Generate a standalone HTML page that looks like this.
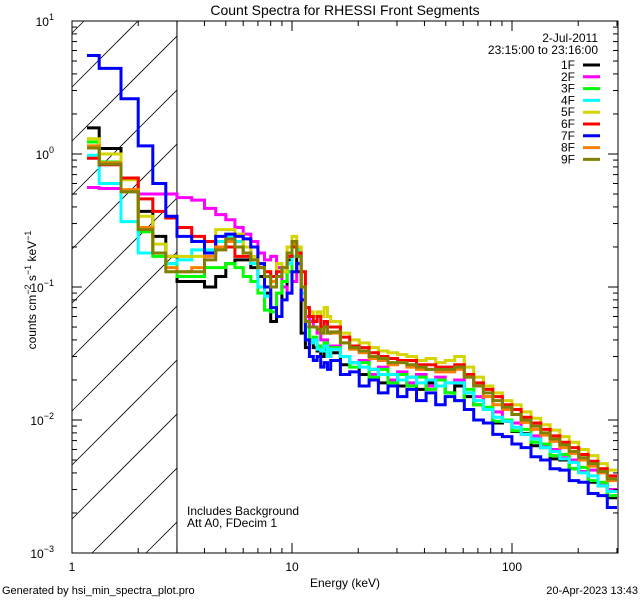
<!DOCTYPE html>
<html><head><meta charset="utf-8"><style>
html,body{margin:0;padding:0;background:#fff;width:640px;height:600px;overflow:hidden;}
svg{display:block;}
svg text{font-family:"Liberation Sans",sans-serif;fill:#000;}
</style></head><body>
<svg id="chart" width="640" height="600" xmlns="http://www.w3.org/2000/svg">
<rect width="640" height="600" fill="#fff"/>
<text x="345" y="15" font-size="14" text-anchor="middle">Count Spectra for RHESSI Front Segments</text>
<g id="hatch"></g>
<g id="series"></g>
<g id="axes"></g>
<text x="345" y="587" font-size="12" text-anchor="middle">Energy (keV)</text>
<text transform="translate(36,290) rotate(-90)" font-size="12" text-anchor="middle">counts cm<tspan dy="-5" font-size="9">−2</tspan><tspan dy="5"> s</tspan><tspan dy="-5" font-size="9">−1</tspan><tspan dy="5"> keV</tspan><tspan dy="-5" font-size="9">−1</tspan></text>
<text x="598" y="42" font-size="12" text-anchor="end">2-Jul-2011</text>
<text x="598" y="54" font-size="12" text-anchor="end">23:15:00 to 23:16:00</text>
<g id="legend"></g>
<text x="187" y="515" font-size="12">Includes Background</text>
<text x="187" y="527" font-size="12">Att A0, FDecim 1</text>
<text x="2" y="594" font-size="11">Generated by hsi_min_spectra_plot.pro</text>
<text x="638" y="594" font-size="11" text-anchor="end">20-Apr-2023 13:43</text>
</svg>
<script>
const edges=[1.17,1.33,1.67,2,2.33,2.67,3,3.5,4,4.5,5,5.5,6,6.5,7,7.5,8,8.5,9,9.5,10,10.5,11,11.5,12,12.5,13,13.5,14,14.5,15,16.6,18.3,20.2,22.4,24.7,27.3,30.2,33.3,36.8,40.7,45,49.7,54.9,60.7,67,74.1,81.8,90.4,99.9,110,122,135,149,165,182,201,222,246,271,300];
const segLabels=["1F","2F","3F","4F","5F","6F","7F","8F","9F"];
const segColors=["#000000","#ff00ff","#00ff00","#00ffff","#d4d400","#ff0000","#0000ff","#ff8000","#808000"];
const s1F=[1.57,1.1,0.66,0.37,0.24,0.17,0.11,0.11,0.10,0.12,0.15,0.16,0.16,0.14,0.12,0.09,0.055,0.06,0.10,0.16,0.20,0.13,0.045,0.035,0.04,0.035,0.033,0.03,0.034,0.03,
0.032,0.026,0.027,0.022,0.024,0.019,0.022,0.018,0.021,0.017,0.019,0.018,0.016,0.018,0.015,0.013,0.012,0.0095,0.0098,0.0082,0.0079,0.0064,0.0062,0.0051,0.005,0.0043,0.0041,0.0034,0.0032,0.0026];
const s2F=[0.56,0.55,0.52,0.50,0.50,0.50,0.47,0.45,0.39,0.35,0.32,0.28,0.25,0.22,0.18,0.16,0.17,0.14,0.10,0.09,0.11,0.15,0.08,0.06,0.055,0.05,0.045,0.04,0.04,0.035,
0.036,0.030,0.027,0.028,0.022,0.025,0.02,0.023,0.019,0.022,0.018,0.021,0.019,0.02,0.016,0.015,0.012,0.0115,0.0098,0.0095,0.0078,0.0076,0.0063,0.006,0.0052,0.005,0.0041,0.0042,0.0033,0.003];
const s3F=[1.23,0.87,0.52,0.26,0.17,0.15,0.12,0.12,0.14,0.14,0.15,0.14,0.12,0.11,0.09,0.067,0.065,0.09,0.11,0.13,0.17,0.2,0.1,0.05,0.04,0.042,0.036,0.035,0.038,0.033,
0.035,0.03,0.025,0.027,0.021,0.024,0.019,0.022,0.018,0.021,0.017,0.02,0.016,0.014,0.017,0.013,0.0125,0.0098,0.01,0.0083,0.0085,0.0068,0.0066,0.0054,0.0055,0.0043,0.0044,0.0035,0.0034,0.0027];
const s4F=[0.98,0.6,0.31,0.18,0.18,0.15,0.16,0.19,0.19,0.22,0.24,0.22,0.18,0.15,0.1,0.085,0.1,0.12,0.13,0.15,0.17,0.19,0.09,0.04,0.038,0.04,0.034,0.033,0.036,0.03,
0.034,0.03,0.027,0.025,0.024,0.022,0.022,0.02,0.021,0.019,0.02,0.018,0.019,0.019,0.016,0.014,0.012,0.0105,0.0098,0.0088,0.0078,0.0072,0.0062,0.0058,0.0051,0.0048,0.004,0.0038,0.0032,0.0029];
const s5F=[1.3,1.0,0.64,0.34,0.21,0.17,0.17,0.17,0.22,0.27,0.27,0.25,0.2,0.17,0.15,0.13,0.12,0.15,0.13,0.2,0.24,0.2,0.13,0.07,0.065,0.06,0.065,0.06,0.07,0.06,
0.055,0.045,0.04,0.038,0.035,0.033,0.032,0.031,0.03,0.028,0.029,0.027,0.028,0.03,0.025,0.021,0.018,0.016,0.014,0.013,0.0115,0.0103,0.0092,0.0084,0.0075,0.0068,0.006,0.0054,0.0047,0.0042];
const s6F=[0.93,0.83,0.66,0.46,0.37,0.33,0.28,0.24,0.22,0.2,0.2,0.17,0.17,0.16,0.15,0.13,0.12,0.13,0.14,0.17,0.2,0.18,0.13,0.07,0.06,0.055,0.06,0.05,0.055,0.05,
0.05,0.042,0.036,0.035,0.032,0.03,0.029,0.028,0.028,0.026,0.026,0.025,0.025,0.026,0.022,0.019,0.017,0.015,0.013,0.012,0.0105,0.0095,0.0085,0.0076,0.0068,0.0062,0.0055,0.0049,0.0043,0.0038];
const s7F=[5.5,4.4,2.6,1.15,0.6,0.34,0.24,0.22,0.18,0.24,0.25,0.24,0.23,0.2,0.15,0.1,0.07,0.06,0.08,0.09,0.13,0.15,0.08,0.04,0.03,0.028,0.03,0.025,0.027,0.024,
0.028,0.022,0.023,0.018,0.02,0.016,0.018,0.015,0.017,0.014,0.016,0.013,0.015,0.014,0.012,0.01,0.0095,0.0078,0.0075,0.0066,0.0062,0.0053,0.005,0.0043,0.0042,0.0035,0.0034,0.0028,0.0027,0.0022];
const s8F=[1.15,0.86,0.54,0.28,0.18,0.14,0.13,0.14,0.17,0.2,0.22,0.2,0.18,0.16,0.14,0.12,0.11,0.12,0.14,0.18,0.21,0.17,0.1,0.055,0.05,0.05,0.048,0.045,0.05,0.045,
0.045,0.038,0.034,0.032,0.029,0.028,0.026,0.027,0.025,0.024,0.024,0.023,0.023,0.024,0.021,0.018,0.015,0.013,0.012,0.011,0.0096,0.0085,0.0077,0.0069,0.0062,0.0056,0.005,0.0045,0.004,0.0035];
const s9F=[1.11,0.84,0.52,0.27,0.18,0.13,0.13,0.13,0.16,0.19,0.23,0.2,0.18,0.16,0.14,0.12,0.1,0.12,0.14,0.18,0.22,0.17,0.1,0.055,0.05,0.05,0.048,0.045,0.05,0.045,
0.046,0.038,0.035,0.033,0.03,0.029,0.027,0.027,0.026,0.025,0.024,0.024,0.024,0.025,0.021,0.018,0.016,0.014,0.0125,0.011,0.01,0.009,0.008,0.0072,0.0065,0.0058,0.0052,0.0047,0.0041,0.0036];
const allSeries=[s1F,s2F,s3F,s4F,s5F,s6F,s7F,s8F,s9F];
const yTickLabels=["10","10","10","10","10"];
const yTickExps=["1","0","−1","−2","−3"];
const xTickLabels=["1","10","100"];

const NS="http://www.w3.org/2000/svg";
const L=72,R=618,T=21,B=553,DEC=220;
const xs=e=>L+Math.log10(e)*DEC;
const ys=v=>T+(1-Math.log10(v))*((B-T)/4);
function mk(tag,attrs,parent){const el=document.createElementNS(NS,tag);for(const k in attrs)el.setAttribute(k,attrs[k]);parent.appendChild(el);return el;}

const hatch=document.getElementById('hatch');
const X3=xs(3);
for(let c=33;c<B+(X3-L);c+=54){
  const xa=Math.max(L,L+c-B), xb=Math.min(X3,L+c-T);
  if(xa>=xb) continue;
  const ln=mk('line',{x1:xa,y1:c-(xa-L),x2:xb,y2:c-(xb-L),stroke:'#000','stroke-width':0.8},hatch);
  
  
}
const thr=mk('line',{x1:X3,y1:T,x2:X3,y2:B,stroke:'#000','stroke-width':1},hatch);



const sg=document.getElementById('series');
allSeries.forEach((vals,si)=>{
  let d='';
  vals.forEach((v,i)=>{
    const x0=xs(edges[i]),x1=Math.min(R,xs(edges[i+1])),y=Math.min(B,Math.max(T,ys(v)));
    d+=(i===0?'M':'L')+x0.toFixed(1)+','+y.toFixed(1)+'L'+x1.toFixed(1)+','+y.toFixed(1);
  });
  const p=mk('path',{d:d,fill:'none',stroke:segColors[si],'stroke-width':3,'stroke-linejoin':'miter'},sg);
  
  
});

const ax=document.getElementById('axes');
const frame=mk('rect',{x:L,y:T,width:R-L,height:B-T,fill:'none',stroke:'#000','stroke-width':1},ax);


for(let dec=0;dec<3;dec++){
  for(let m=1;m<10;m++){
    const e=m*Math.pow(10,dec);if(e>300)break;
    const x=xs(e),len=m===1?10:5;
    const t1=mk('line',{x1:x,y1:B,x2:x,y2:B-len,stroke:'#000'},ax);
    
    
    const t2=mk('line',{x1:x,y1:T,x2:x,y2:T+len,stroke:'#000'},ax);
    
    
  }
}
xTickLabels.forEach((lab,i)=>{
  const t=mk('text',{x:xs(Math.pow(10,i)),y:571,'font-size':12,'text-anchor':'middle'},ax);
  t.textContent=lab;
  
  
});
for(let p=-3;p<1;p++){
  for(let m=1;m<10;m++){
    const v=m*Math.pow(10,p),y=ys(v),len=m===1?10:5;
    const t1=mk('line',{x1:L,y1:y,x2:L+len,y2:y,stroke:'#000'},ax);
    
    
    const t2=mk('line',{x1:R,y1:y,x2:R-len,y2:y,stroke:'#000'},ax);
    
    
  }
}
yTickLabels.forEach((lab,i)=>{
  const y=ys(Math.pow(10,1-i));
  const t=mk('text',{x:54,y:y+5,'font-size':12,'text-anchor':'end'},ax);
  t.textContent=lab;
  const ts=mk('tspan',{dy:-6,'font-size':9},t);
  ts.textContent=yTickExps[i];
  
  
});

const lg=document.getElementById('legend');
segLabels.forEach((lab,i)=>{
  const y=65+i*11.8;
  const t=mk('text',{x:575,y:y+4,'font-size':12,'text-anchor':'end'},lg);
  t.textContent=lab;
  
  
  const l=mk('line',{x1:583,y1:y,x2:600,y2:y,stroke:segColors[i],'stroke-width':3},lg);
  
  
});
</script>
</body></html>
